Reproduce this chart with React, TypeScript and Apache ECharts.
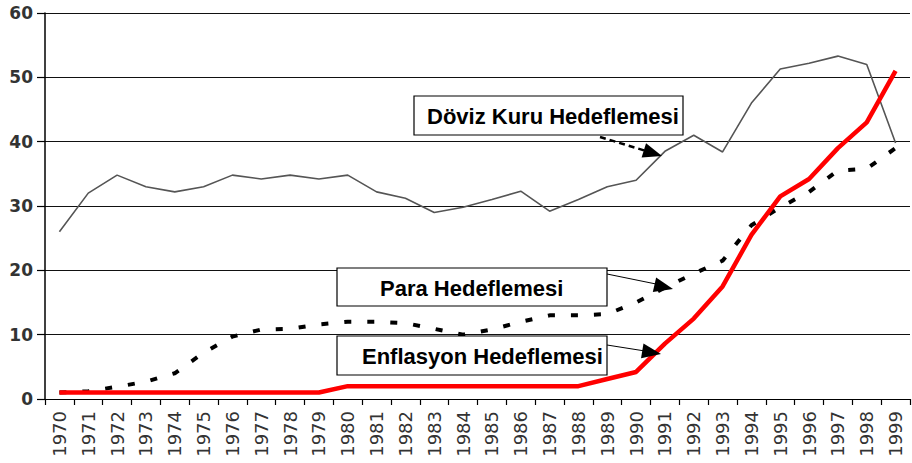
import React, { useEffect, useRef } from "react";
import * as echarts from "echarts";

const years = [
  "1970", "1971", "1972", "1973", "1974", "1975", "1976", "1977", "1978", "1979",
  "1980", "1981", "1982", "1983", "1984", "1985", "1986", "1987", "1988", "1989",
  "1990", "1991", "1992", "1993", "1994", "1995", "1996", "1997", "1998", "1999",
];

const dovizKuru = [
  26, 32, 34.8, 33, 32.2, 33, 34.8, 34.2, 34.8, 34.2,
  34.8, 32.2, 31.2, 29, 29.8, 31, 32.3, 29.2, 31, 33,
  34, 38.5, 41, 38.4, 46, 51.3, 52.2, 53.3, 52, 39.8,
];

const para = [
  1, 1.2, 1.9, 2.7, 4, 7.2, 9.7, 10.8, 10.9, 11.6,
  12, 12, 11.8, 10.9, 10, 10.8, 12, 13, 13, 13.2,
  15, 17.3, 19.5, 21.5, 27, 29.8, 32.2, 35.5, 35.8, 39,
];

const enflasyon = [
  1, 1, 1, 1, 1, 1, 1, 1, 1, 1,
  2, 2, 2, 2, 2, 2, 2, 2, 2, 3.1,
  4.2, 8.6, 12.5, 17.5, 25.5, 31.5, 34.2, 39, 43, 51,
];

const yTicks = { min: 0, max: 60, interval: 10 };

const labels = {
  doviz: "Döviz Kuru Hedeflemesi",
  para: "Para Hedeflemesi",
  enflasyon: "Enflasyon Hedeflemesi",
};

function arrowHead(tipX: number, tipY: number, fromX: number, fromY: number, len = 19, half = 7.5) {
  const dx = tipX - fromX;
  const dy = tipY - fromY;
  const d = Math.sqrt(dx * dx + dy * dy);
  const ux = dx / d;
  const uy = dy / d;
  const bx = tipX - ux * len;
  const by = tipY - uy * len;
  return {
    type: "polygon",
    z: 100,
    shape: {
      points: [
        [tipX, tipY],
        [bx - uy * half, by + ux * half],
        [bx + uy * half, by - ux * half],
      ],
    },
    style: { fill: "#000" },
  };
}

function box(x: number, y: number, w: number, h: number, text: string, tx: number) {
  return [
    {
      type: "rect",
      z: 100,
      shape: { x, y, width: w, height: h },
      style: { fill: "#fff", stroke: "#000", lineWidth: 1.2 },
    },
    {
      type: "text",
      z: 101,
      x: tx,
      y: y + h / 2 + 1,
      style: {
        text,
        fill: "#000",
        font: "bold 22px 'Liberation Sans', Arial, sans-serif",
        verticalAlign: "middle",
        align: "left",
      },
    },
  ];
}

export default function App() {
  const ref = useRef<HTMLDivElement>(null);

  useEffect(() => {
    if (!ref.current) return;
    const chart = echarts.init(ref.current, null, { renderer: "svg" });
    const option: any = {
      animation: false,
      backgroundColor: "#fff",
      grid: { left: 45, right: 2, top: 13, bottom: 64 },
      xAxis: {
        type: "category",
        data: years,
        boundaryGap: true,
        axisLine: { lineStyle: { color: "#000", width: 1.2 } },
        axisTick: { show: true, length: 6, lineStyle: { color: "#000", width: 1.2 } },
        axisLabel: {
          rotate: 90,
          interval: 0,
          margin: 12,
          color: "#333",
          fontSize: 18,
          fontFamily: "'DejaVu Sans', sans-serif",
        },
        splitLine: { show: false },
      },
      yAxis: {
        type: "value",
        min: yTicks.min,
        max: yTicks.max,
        interval: yTicks.interval,
        axisLine: { show: true, lineStyle: { color: "#000", width: 1.5 } },
        axisTick: { show: true, length: 8, lineStyle: { color: "#000", width: 1.2 } },
        axisLabel: {
          margin: 12,
          color: "#333",
          fontSize: 17,
          fontWeight: "bold",
          fontFamily: "'DejaVu Sans', sans-serif",
        },
        splitLine: { show: true, lineStyle: { color: "#111", width: 1.2 } },
      },
      series: [
        {
          name: labels.doviz,
          type: "line",
          data: dovizKuru,
          symbol: "none",
          lineStyle: { color: "#555", width: 1.6 },
          z: 3,
        },
        {
          name: labels.para,
          type: "line",
          data: para,
          symbol: "none",
          lineStyle: { color: "#000", width: 4, type: [7, 16] },
          z: 4,
        },
        {
          name: labels.enflasyon,
          type: "line",
          data: enflasyon,
          symbol: "none",
          lineStyle: { color: "#ff0000", width: 4.5 },
          z: 5,
        },
      ],
      graphic: [
        ...box(414, 96, 269, 39, labels.doviz, 427),
        {
          type: "line",
          z: 100,
          shape: { x1: 600, y1: 137, x2: 646, y2: 151 },
          style: { stroke: "#000", lineWidth: 2.5, lineDash: [6, 4] },
        },
        arrowHead(662, 156, 600, 137),
        ...box(337, 268, 270, 38, labels.para, 380),
        {
          type: "line",
          z: 100,
          shape: { x1: 607, y1: 274, x2: 656, y2: 284 },
          style: { stroke: "#000", lineWidth: 1 },
        },
        arrowHead(673, 289, 607, 274),
        ...box(337, 336, 270, 39, labels.enflasyon, 362),
        {
          type: "line",
          z: 100,
          shape: { x1: 607, y1: 345, x2: 645, y2: 351 },
          style: { stroke: "#000", lineWidth: 1 },
        },
        arrowHead(661, 354, 607, 345),
      ],
    };
    chart.setOption(option);
    return () => chart.dispose();
  }, []);

  return (
    <div
      ref={ref}
      style={{ position: "fixed", left: 0, top: 0, width: 912, height: 463 }}
    />
  );
}
